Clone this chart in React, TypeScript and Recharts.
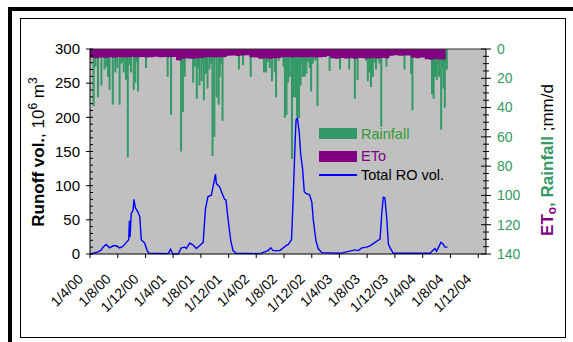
import React from "react";
import {
  ComposedChart,
  Bar,
  Area,
  Line,
  XAxis,
  YAxis,
  CartesianGrid,
  Legend,
  Label,
  ReferenceLine,
} from "recharts";

// days counted from 1/4/00
const tickDays = [0, 122, 244, 365, 487, 609, 730, 852, 974, 1095, 1217, 1339, 1461, 1583, 1705];
const tickLabels = [
  "1/4/00", "1/8/00", "1/12/00", "1/4/01", "1/8/01", "1/12/01", "1/4/02", "1/8/02",
  "1/12/02", "1/4/03", "1/8/03", "1/12/03", "1/4/04", "1/8/04", "1/12/04",
];
const roTicks = [0, 10, 20, 30, 40, 50, 60, 70, 80, 90, 100, 110, 120, 130, 140, 150, 160, 170, 180, 190, 200, 210, 220, 230, 240, 250, 260, 270, 280, 290, 300];
const rainTicks = [0, 5, 10, 15, 20, 25, 30, 35, 40, 45, 50, 55, 60, 65, 70, 75, 80, 85, 90, 95, 100, 105, 110, 115, 120, 125, 130, 135, 140];

const rainDays = [
  16, 24, 35, 50, 64, 72, 79, 86, 100, 111, 120, 130, 137, 142, 148, 158, 166, 173, 180, 192, 199, 205,
  211, 215, 246, 341, 356, 400, 408, 416, 428, 433, 440, 453, 460, 469, 475, 481, 490, 495, 500, 509, 516, 525, 531,
  538, 546, 556, 565, 570, 576, 582, 588, 654, 672, 706, 764, 773, 780, 789, 799, 811, 817, 829, 842, 850, 856, 863, 870,
  877, 887, 895, 903, 909, 918, 925, 932, 935, 943, 950, 958, 965, 971, 979, 990, 999, 1052, 1098, 1138, 1163, 1175, 1190,
  1212, 1220, 1227, 1234, 1242, 1249, 1256, 1264, 1271, 1279, 1302, 1381, 1410, 1416, 1502, 1509, 1515, 1523, 1528, 1533,
  1542, 1547, 1552, 1558, 1562, 1567,
];
const rainMm = [
  39, 12, 33, 25, 14, 12, 19, 28, 38, 16, 13, 38, 10, 9, 16, 21, 74, 11, 16, 28, 23, 9,
  29, 3, 13, 19, 45, 70, 43, 19, 4, 7, 4, 23, 12, 34, 13, 25, 22, 9, 35, 17, 27, 14, 10,
  73, 60, 33, 38, 19, 10, 49, 3, 14, 11, 19, 16, 16, 9, 13, 22, 16, 33, 8, 4, 12, 47, 45, 23,
  19, 75, 33, 33, 46, 47, 25, 10, 19, 19, 17, 9, 13, 29, 10, 8, 39, 15, 14, 14, 34, 21, 6,
  8, 22, 16, 26, 19, 9, 14, 7, 10, 53, 12, 14, 17, 42, 31, 34, 19, 21, 10, 19,
  55, 12, 27, 40, 9, 14,
];

const etoDays = [
  0, 20, 40, 60, 80, 100, 120, 140, 160, 180, 200, 220, 240, 260, 280, 300, 320, 340, 360, 378,
  390, 400, 420, 440, 460, 480, 500, 520, 540, 560, 580, 600, 620, 640, 660, 680, 700, 720, 740, 760,
  780, 800, 820, 840, 860, 880, 900, 920, 940, 960, 980, 1000, 1020, 1040, 1055, 1075, 1095, 1115, 1135, 1155,
  1175, 1195, 1215, 1235, 1255, 1275, 1295, 1315, 1335, 1355, 1375, 1395, 1410, 1430, 1450, 1470, 1490, 1510, 1530, 1562,
];
const etoMm = [
  6.0, 6.3, 5.8, 6.1, 5.7, 5.9, 5.5, 5.8, 5.6, 5.4, 5.7, 5.5, 5.8, 5.6, 5.3, 5.6, 5.4, 5.7, 5.5, 7.6,
  7.9, 6.6, 6.3, 6.7, 6.4, 6.1, 5.7, 5.5, 5.8, 5.5, 5.6, 4.6, 4.4, 4.7, 4.5, 4.3, 5.6, 5.8, 6.6, 6.3,
  6.7, 6.4, 6.2, 5.7, 5.5, 5.8, 5.4, 5.6, 5.7, 5.5, 5.8, 5.6, 5.4, 4.8, 6.3, 6.6, 6.2, 6.5, 6.3, 6.6,
  6.2, 6.4, 6.5, 6.1, 6.4, 6.2, 6.3, 4.6, 4.3, 4.6, 4.4, 4.5, 6.0, 6.3, 5.8, 7.0, 7.3, 6.9, 7.2, 7.0,
];

const roDays = [
  0, 36, 50, 57, 71, 86, 101, 116, 130, 144, 160, 170, 173, 176, 181, 189, 193, 199, 211, 219,
  225, 240, 251, 259, 343, 354, 364, 387, 401, 416, 423, 438, 453, 467, 481, 497, 507, 518, 533, 540,
  551, 555, 570, 577, 591, 597, 606, 618, 628, 641, 747, 782, 794, 804, 834, 862, 871, 885, 892, 901,
  905, 911, 919, 925, 934, 941, 951, 964, 974, 981, 992, 1002, 1018, 1098, 1164, 1178, 1194, 1215, 1229, 1252,
  1274, 1281, 1288, 1295, 1304, 1310, 1321, 1332, 1493, 1505, 1515, 1522, 1541, 1549, 1559, 1570,
];
const roVol = [
  0, 3, 6, 10, 14, 9, 12, 12, 9, 11, 17, 21, 49, 25, 59, 64, 80, 68, 61, 54,
  21, 16, 5, 1, 0.5, 7, 0, 0, 9, 10, 8, 16, 13, 8, 12, 17, 66, 84, 86, 98,
  117, 103, 98, 91, 80, 79, 52, 20, 5, 1, 0.5, 5, 9, 5, 5, 12.5, 14, 21, 79, 167,
  196, 199, 177, 147, 123, 91, 88, 87, 76, 49, 20, 8, 2, 1, 6, 5, 9, 10, 12, 17,
  22, 59, 83, 82, 49, 15, 7, 1, 1, 5, 8, 4, 17, 15, 10, 10,
];

const GREEN = "#339966";
const PURPLE = "#800080";
const FONT = "'Liberation Sans', Arial, sans-serif";

type Row = { day: number; rain?: number; eto?: number; ro?: number };

const buildData = (): Row[] => {
  const map = new Map<number, Row>();
  const get = (d: number) => {
    if (!map.has(d)) map.set(d, { day: d });
    return map.get(d)!;
  };
  rainDays.forEach((d, i) => (get(d).rain = rainMm[i]));
  etoDays.forEach((d, i) => (get(d).eto = etoMm[i]));
  roDays.forEach((d, i) => (get(d).ro = roVol[i]));
  return Array.from(map.values()).sort((a, b) => a.day - b.day);
};

const data = buildData();

// fixed 2px wide bars, centred on the day
const RainBar = (props: any) => {
  const { x, y, width, height } = props;
  if (!height || isNaN(height)) return null;
  const cx = x + width / 2;
  return <rect x={cx - 1} y={Math.min(y, y + height)} width={2} height={Math.abs(height)} fill={GREEN} />;
};

const XTick = ({ x, y, payload }: any) => {
  const label = tickLabels[tickDays.indexOf(payload.value)];
  const tx = x - 6;
  const ty = y + 26;
  return (
    <g>
      <line x1={x} y1={y} x2={x} y2={y + 4} stroke="#000" />
      <text x={tx} y={ty} transform={`rotate(-45 ${tx} ${ty})`} textAnchor="end"
        fontSize={14} fontFamily={FONT} fill="#000">
        {label}
      </text>
    </g>
  );
};

const LeftTick = ({ x, y, payload }: any) => {
  const major = payload.value % 50 === 0;
  return (
    <g>
      <line x1={major ? x - 4 : x} y1={y} x2={x + 3} y2={y} stroke="#000" />
      {major && (
        <text x={x - 10} y={y} dy="0.35em" textAnchor="end" fontSize={15} fontFamily={FONT} fill="#000">
          {payload.value}
        </text>
      )}
    </g>
  );
};

const RightTick = ({ x, y, payload }: any) => {
  const major = payload.value % 20 === 0;
  const len = major ? 5 : 3;
  return (
    <g>
      <line x1={x - len} y1={y} x2={x + len} y2={y} stroke="#000" />
      {major && (
        <text x={x + 11} y={y} dy="0.35em" textAnchor="start" fontSize={14} fontFamily={FONT} fill={GREEN}>
          {payload.value}
        </text>
      )}
    </g>
  );
};

const LeftTitle = () => (
  <text x={44} y={152} transform="rotate(-90 44 152)" textAnchor="middle" fontSize={17}
    fontFamily={FONT} fill="#000">
    <tspan fontWeight="bold">Runoff vol.</tspan>
    <tspan>, 10</tspan>
    <tspan dy={-7} fontSize={12}>6</tspan>
    <tspan dy={7}> m</tspan>
    <tspan dy={-7} fontSize={12}>3</tspan>
  </text>
);

const RightTitle = () => (
  <text x={553} y={160} transform="rotate(-90 553 160)" textAnchor="middle" fontSize={17}
    fontFamily={FONT} fontWeight="bold">
    <tspan fill={PURPLE}>ET</tspan>
    <tspan fill={PURPLE} fontSize={12} dy={3}>o</tspan>
    <tspan fill={GREEN} dy={-3}>, Rainfall</tspan>
    <tspan fill="#000" fontWeight="normal"> ;mm/d</tspan>
  </text>
);

const LegendBox = () => {
  const text: React.CSSProperties = {
    position: "absolute", left: 42, fontSize: 14.5, fontFamily: FONT, lineHeight: "16px", whiteSpace: "nowrap",
  };
  return (
    <div style={{ position: "relative", width: 150, height: 60 }}>
      <div style={{ position: "absolute", left: 0, top: 2, width: 38, height: 11, background: GREEN }} />
      <div style={{ ...text, top: 0, color: "#339933" }}>Rainfall</div>
      <div style={{ position: "absolute", left: 0, top: 25, width: 38, height: 11, background: PURPLE }} />
      <div style={{ ...text, top: 22, color: PURPLE }}>ETo</div>
      <div style={{ position: "absolute", left: 0, top: 48, width: 38, height: 1.5, background: "#0000FF" }} />
      <div style={{ ...text, top: 41, color: "#000" }}>Total RO vol.</div>
    </div>
  );
};

export default function App() {
  return (
    <div style={{ position: "absolute", left: 0, top: 0, width: 573, height: 342, background: "#fff", overflow: "hidden" }}>
      <div style={{ position: "absolute", left: 8, top: 7, width: 565, height: 4, background: "#000" }} />
      <div style={{ position: "absolute", left: 8, top: 7, width: 4, height: 335, background: "#000" }} />
      <div style={{ position: "absolute", left: 20, top: 18, width: 544, height: 318, border: "1px solid #000" }} />
      <div style={{ position: "absolute", left: 0, top: 0 }}>
        <ComposedChart width={573} height={342} data={data}
          margin={{ top: 49, right: 27, bottom: 28, left: 20 }}>
          <CartesianGrid yAxisId="ro" fill="#C0C0C0" stroke="none" horizontal={false} vertical={false} />
          <XAxis dataKey="day" type="number" domain={[0, 1739]} ticks={tickDays} interval={0}
            tickLine={false} tickSize={0} tickMargin={0} tick={<XTick />} height={60}
            axisLine={{ stroke: "#000" }} />
          <YAxis yAxisId="ro" orientation="left" type="number" domain={[0, 300]} ticks={roTicks}
            interval={0} tickLine={false} tickSize={0} tickMargin={0} tick={<LeftTick />} width={70}
            axisLine={{ stroke: "#000" }}>
            <Label content={() => <LeftTitle />} />
          </YAxis>
          <YAxis yAxisId="rain" orientation="right" type="number" domain={[0, 140]} reversed
            ticks={rainTicks} interval={0} tickLine={false} tickSize={0} tickMargin={0}
            tick={<RightTick />} width={60} axisLine={{ stroke: "#000" }}>
            <Label content={() => <RightTitle />} />
          </YAxis>
          <ReferenceLine yAxisId="ro" y={300} stroke="#333" />
          <Bar yAxisId="rain" dataKey="rain" fill={GREEN} shape={<RainBar />} isAnimationActive={false} />
          <Area yAxisId="rain" dataKey="eto" type="stepAfter" fill={PURPLE} fillOpacity={1}
            stroke="none" baseValue={0} connectNulls zIndex={350} isAnimationActive={false} />
          <Line yAxisId="ro" dataKey="ro" type="linear" stroke="#0000FF" strokeWidth={1.4}
            dot={false} connectNulls isAnimationActive={false} />
          <Legend layout="vertical" align="center" verticalAlign="middle"
            wrapperStyle={{ left: 319, top: 126, width: 150 }} content={() => <LegendBox />} />
        </ComposedChart>
      </div>
    </div>
  );
}
